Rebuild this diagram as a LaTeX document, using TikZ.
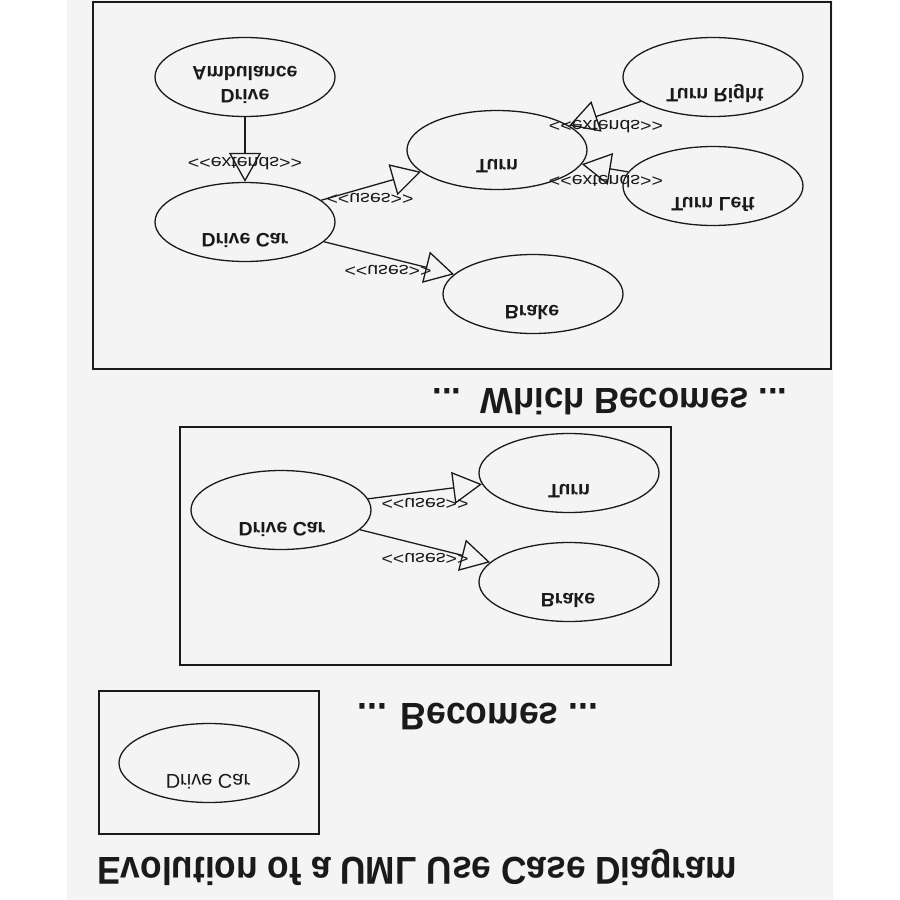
\documentclass[tikz,border=0pt]{standalone}
\usepackage{fontspec}
\setmainfont{Liberation Sans}
\usetikzlibrary{shapes.geometric,arrows.meta}
\definecolor{page}{HTML}{F4F4F4}
\definecolor{ink}{HTML}{1A1A1A}
\newcommand{\stlt}{<{}<}
\newcommand{\stgt}{>{}>}
\begin{document}
\begin{tikzpicture}[x=1pt,y=-1pt,
  uc/.style={ellipse,draw=ink,line width=1.3pt,minimum width=180pt,minimum height=79pt,inner sep=0pt},
  uctext/.style={anchor=base,yscale=-1,font=\bfseries\fontsize{19.5}{23}\selectfont,align=center,text=ink,inner sep=0pt},
  uclight/.style={anchor=base,yscale=-1,font=\fontsize{20}{23}\selectfont,text=ink,inner sep=0pt},
  lbl/.style={anchor=base,xscale=1.15,yscale=-1,font=\fontsize{17}{20}\selectfont,text=ink,inner sep=0pt},
  heading/.style={anchor=base,text=ink,inner sep=0pt},
  frame/.style={draw=ink,line width=1.6pt},
  rel/.style={draw=ink,line width=1.3pt,-{Triangle[open,length=29pt,width=32pt]}}]
\useasboundingbox (0,0) rectangle (900,900);
\fill[white] (0,0) rectangle (900,900);
\fill[page] (67,0) rectangle (833,900);

% ---------- top diagram ----------
\draw[frame] (93,2) rectangle (831,369);
\node[uc] (amb) at (245,77) {};
\node[uc] (dc1) at (245,222) {};
\node[uc] (turn1) at (497,150) {};
\node[uc] (tr) at (713,77) {};
\node[uc] (tl) at (713,186) {};
\node[uc] (brake1) at (533,294) {};

\node[uctext,anchor=center] (ambt) at (245,84.6) {Drive\\Ambulance};
\node[uctext] (dc1t) at (245,233) {Drive Car};
\node[uctext] (turn1t) at (497,159) {Turn};
\node[uctext] (trt) at (715,88) {Turn Right};
\node[uctext] (tlt) at (713,197) {Turn Left};
\node[uctext] (brake1t) at (532,305) {Brake};

\draw[rel] (amb) -- (dc1);
\draw[rel] (dc1) -- (turn1);
\draw[rel] (dc1) -- (brake1);
\draw[rel] (tr) -- (turn1);
\draw[rel] (tl) -- (turn1);

\node[lbl] (l1) at (245,157) {\stlt extends\stgt};
\node[lbl] (l2) at (370,193) {\stlt uses\stgt};
\node[lbl] (l3) at (388,265) {\stlt uses\stgt};
\node[lbl] (l4) at (606,120) {\stlt extends\stgt};
\node[lbl] (l5) at (606,175) {\stlt extends\stgt};

\node[heading,yscale=-1.05,font=\bfseries\fontsize{34.7}{40}\selectfont] (h1) at (610,388) {...\ \ Which Becomes ...};

% ---------- middle diagram ----------
\draw[frame] (180,427) rectangle (671,665);
\node[uc] (dc2) at (281,510) {};
\node[uc] (turn2) at (569,473) {};
\node[uc] (brake2) at (569,582) {};
\node[uctext] (dc2t) at (282,522) {Drive Car};
\node[uctext] (turn2t) at (569,484) {Turn};
\node[uctext] (brake2t) at (568,593) {Brake};
\draw[rel] (dc2) -- (turn2);
\draw[rel] (dc2) -- (brake2);
\node[lbl] (l6) at (425,498) {\stlt uses\stgt};
\node[lbl] (l7) at (425,553) {\stlt uses\stgt};

\node[heading,yscale=-1.08,font=\bfseries\fontsize{35.5}{40}\selectfont] (h2) at (478,703) {... Becomes ...};

% ---------- bottom diagram ----------
\draw[frame] (99,691) rectangle (319,834);
\node[uc] (dc3) at (209,763) {};
\node[uclight] (dc3t) at (208,774) {Drive Car};

\node[heading,yscale=-1.1,font=\bfseries\fontsize{35.3}{40}\selectfont] (h3) at (417,857) {Evolution of a UML Use Case Diagram};
\end{tikzpicture}
\end{document}
